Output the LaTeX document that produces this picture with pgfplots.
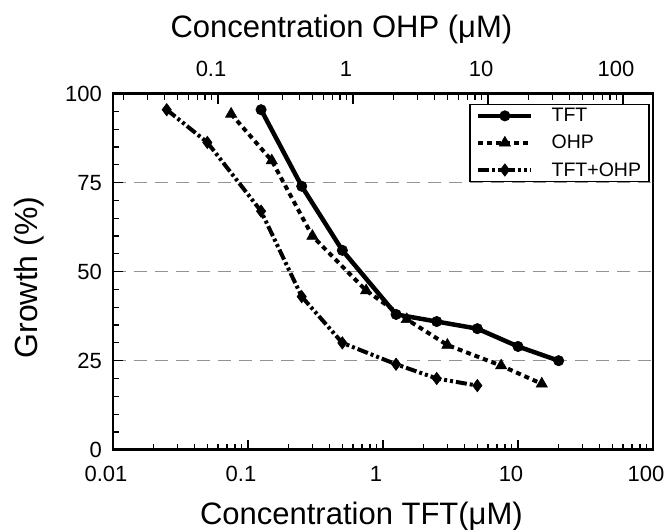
\documentclass[border=0pt]{standalone}
\usepackage{fontspec}
\setmainfont{Liberation Sans}
\usepackage{pgfplots}
\pgfplotsset{compat=1.18}
\tikzset{
  tftstyle/.style={black, line width=4.5bp, solid, mark=*, mark size=5.2bp, mark options={solid, fill=black, line width=0.6bp}},
  ohpstyle/.style={black, line width=4bp, dash pattern=on 5bp off 4bp, mark=triangle*, mark size=6.5bp, mark options={solid, fill=black, line width=0.6bp}},
  bothstyle/.style={black, line width=4bp, dash pattern=on 11bp off 3bp on 3bp off 3bp on 3bp off 3bp, mark=diamond*, mark size=6.2bp, mark options={solid, fill=black, line width=0.6bp}},
}
\begin{document}
\begin{tikzpicture}
\begin{axis}[
  scale only axis, width=540bp, height=356bp,
  xmode=log, xmin=0.01, xmax=100, ymin=0, ymax=100,
  /pgf/number format/assume math mode=true,
  xtick={0.01,0.1,1,10,100},
  xticklabels={0.01,0.1,1,10,100},
  minor xtick={0.02,0.03,0.04,0.05,0.06,0.07,0.08,0.09,0.2,0.3,0.4,0.5,0.6,0.7,0.8,0.9,2,3,4,5,6,7,8,9,20,30,40,50,60,70,80,90},
  ytick={0,25,50,75,100},
  minor ytick={5,10,15,20,30,35,40,45,55,60,65,70,80,85,90,95},
  xtick pos=left, ytick pos=left,
  tick align=inside,
  major tick length=10bp, minor tick length=6bp,
  tick style={line width=1.2bp, black},
  axis line style={line width=2.5bp, black},
  ymajorgrids,
  major grid style={gray!85, line width=1.3bp, dash pattern=on 13bp off 8bp},
  ticklabel style={font=\fontsize{22bp}{26bp}\selectfont},
  xticklabel style={anchor=base, inner sep=0pt, yshift=-32bp, xshift=-7bp},
  yticklabel style={anchor=east, inner sep=0pt, xshift=-11bp},
  xlabel={Concentration TFT(μM)},
  xlabel style={at={(axis description cs:0.460,-0.2115)}, anchor=base, font=\fontsize{31bp}{37bp}\selectfont},
  ylabel={Growth (\%)},
  ylabel style={at={(axis description cs:-0.1556,0.4837)}, anchor=center, font=\fontsize{32bp}{38bp}\selectfont},
  legend cell align=left,
  legend image code/.code={\draw[mark repeat=2,mark phase=2,#1] plot coordinates {(0bp,0bp) (26.5bp,0bp) (53bp,0bp)};},
  legend style={at={(0.994,0.972)}, anchor=north east, draw=black, line width=1.5bp, fill=white,
    font=\fontsize{19.5bp}{23bp}\selectfont, inner xsep=6bp, inner ysep=2bp, row sep=8bp,
    nodes={inner sep=2bp},
    /tikz/every odd column/.append style={column sep=16bp}},
]
\coordinate (BL) at (rel axis cs:0,0);
\addplot[tftstyle] coordinates {(0.125,95.5) (0.25,74) (0.5,56) (1.25,38) (2.5,36) (5,34) (10,29) (20,25)};
\addlegendentry{TFT}
\addlegendimage{ohpstyle}
\addlegendentry{OHP}
\addplot[bothstyle] coordinates {(0.025,95.5) (0.05,86.3) (0.125,67) (0.25,43) (0.5,30) (1.25,24) (2.5,20) (5,18)};
\addlegendentry{TFT+OHP}
\end{axis}
\begin{axis}[
  scale only axis, width=540bp, height=356bp,
  xmode=log, xmin=0.0166667, xmax=166.667, ymin=0, ymax=100,
  axis line style={draw=none},
  xtick={0.1,1,10,100},
  xticklabels={0.1,1,10,100},
  minor xtick={0.02,0.03,0.04,0.05,0.06,0.07,0.08,0.09,0.2,0.3,0.4,0.5,0.6,0.7,0.8,0.9,2,3,4,5,6,7,8,9,20,30,40,50,60,70,80,90},
  xtick pos=right, xticklabel pos=right,
  ytick=\empty,
  tick align=inside,
  major tick length=10bp, minor tick length=6bp,
  tick style={line width=1.2bp, black},
  ticklabel style={font=\fontsize{22bp}{26bp}\selectfont},
  xticklabel style={anchor=base, inner sep=0pt, yshift=16.7bp, xshift=-7bp},
  xlabel={Concentration OHP (μM)},
  xlabel style={at={(axis description cs:0.423,1.1565)}, anchor=base, font=\fontsize{31bp}{37bp}\selectfont},
]
\addplot[ohpstyle] coordinates {(0.125,94.3) (0.25,81.2) (0.5,60) (1.25,44.7) (2.5,36.6) (5,29.4) (12.5,23.6) (25,18.5)};
\end{axis}
\pgfresetboundingbox
\path (BL) ++(-113bp,-80.3bp) rectangle ++(666bp,530bp);
\end{tikzpicture}
\end{document}
